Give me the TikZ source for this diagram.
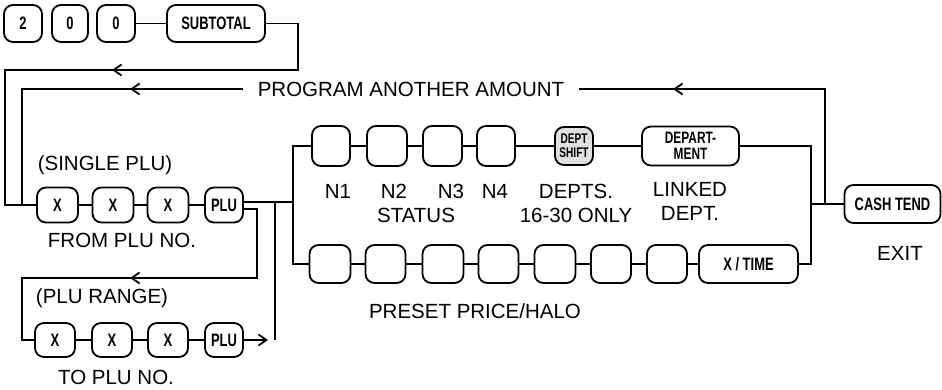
\documentclass[tikz,border=0pt]{standalone}
\usepackage{fontspec}
\setmainfont{Liberation Sans}
\newfontfamily\keyf[FakeStretch=0.72]{Liberation Sans Bold}
\usetikzlibrary{arrows.meta}
\begin{document}
\begin{tikzpicture}[x=1pt,y=-1pt,line width=1.8pt,
  key/.style={draw, rounded corners=9pt, line width=1.8pt, inner sep=0pt, align=center,
    font=\keyf\fontsize{18}{16}\selectfont},
  lbl/.style={inner sep=0pt, font=\fontsize{20.5}{24}\selectfont, align=center},
  arr/.style={-{Straight Barb[length=8pt,width=11pt]}}]
\useasboundingbox (0,0) rectangle (942,390);
% top row
\node[key,minimum width=38pt,minimum height=37pt] (k2) at (23,23.5) {2};
\node[key,minimum width=36pt,minimum height=37pt] (k0a) at (70,23.5) {0};
\node[key,minimum width=38pt,minimum height=37pt] (k0b) at (116,23.5) {0};
\node[key,minimum width=98pt,minimum height=37pt] (sub) at (216,23.5) {SUBTOTAL};
% single plu
\node[key,minimum width=41pt,minimum height=35pt] (s1) at (57.5,205) {X};
\node[key,minimum width=41pt,minimum height=35pt] (s2) at (113,205) {X};
\node[key,minimum width=41pt,minimum height=35pt] (s3) at (168,205) {X};
\node[key,minimum width=38pt,minimum height=35pt] (splu) at (224,205) {PLU};
% range
\node[key,minimum width=40pt,minimum height=34pt] (r1) at (55,340) {X};
\node[key,minimum width=40pt,minimum height=34pt] (r2) at (112,340) {X};
\node[key,minimum width=40pt,minimum height=34pt] (r3) at (168,340) {X};
\node[key,minimum width=38pt,minimum height=34pt] (rplu) at (224,340) {PLU};
% N row
\node[key,minimum width=38pt,minimum height=40pt] (n1) at (331,146) {};
\node[key,minimum width=40pt,minimum height=40pt] (n2) at (387,146) {};
\node[key,minimum width=39pt,minimum height=40pt] (n3) at (442.5,146) {};
\node[key,minimum width=38pt,minimum height=40pt] (n4) at (496,146) {};
\node[key,minimum width=38pt,minimum height=38pt,fill=black!12,
  font=\keyf\fontsize{14}{14.5}\selectfont] (ds) at (574,146) {DEPT\\SHIFT};
\node[key,minimum width=97pt,minimum height=39pt,font=\keyf\fontsize{16.5}{15.5}\selectfont] (dep) at (690.5,146) {DEPART-\\MENT};
% lower row
\node[key,minimum width=41pt,minimum height=38pt] (p1) at (330,264) {};
\node[key,minimum width=40pt,minimum height=38pt] (p2) at (385.5,264) {};
\node[key,minimum width=41pt,minimum height=38pt] (p3) at (443,264) {};
\node[key,minimum width=40pt,minimum height=38pt] (p4) at (498.5,264) {};
\node[key,minimum width=41pt,minimum height=38pt] (p5) at (555,264) {};
\node[key,minimum width=40pt,minimum height=38pt] (p6) at (611,264) {};
\node[key,minimum width=40pt,minimum height=38pt] (p7) at (667,264) {};
\node[key,minimum width=99pt,minimum height=38pt] (xt) at (748.5,264) {X / TIME};
\node[key,minimum width=96pt,minimum height=38pt] (cash) at (892.5,204) {CASH TEND};
% labels
\node[lbl,inner xsep=14pt] (prog) at (411,89) {PROGRAM ANOTHER AMOUNT};
\node[lbl] (lsingle) at (105,165) {(SINGLE PLU)};
\node[lbl] (lfrom) at (122,240) {FROM PLU NO.};
\node[lbl] (lrange) at (102,298) {(PLU RANGE)};
\node[lbl] (lto) at (116,377) {TO PLU NO.};
\node[lbl] (ln1) at (338,191) {N1};
\node[lbl] (ln2) at (394,191) {N2};
\node[lbl] (ln3) at (451,191) {N3};
\node[lbl] (ln4) at (495,191) {N4};
\node[lbl] (lstatus) at (416,215) {STATUS};
\node[lbl] (ldepts) at (576,203) {DEPTS.\\16-30 ONLY};
\node[lbl] (llinked) at (690,201) {LINKED\\DEPT.};
\node[lbl] (lpreset) at (475,311) {PRESET PRICE/HALO};
\node[lbl] (lexit) at (900,253) {EXIT};
% coordinates
\coordinate (c1) at (298,23.5);
\coordinate (c2) at (298,70);
\coordinate (c3) at (5,70);
\coordinate (a1) at (112,70);
\coordinate (c4) at (22,89);
\coordinate (c5) at (22,205);
\coordinate (a2) at (130,89);
\coordinate (c6) at (825,89);
\coordinate (c7) at (825,204);
\coordinate (a3) at (673,89);
\coordinate (b1) at (293,202);
\coordinate (bt) at (293,146);
\coordinate (bb) at (293,264);
\coordinate (v1) at (275,202);
\coordinate (v2) at (275,340);
\coordinate (e1) at (257,209);
\coordinate (e2) at (257,278);
\coordinate (e3) at (22,278);
\coordinate (a4) at (130,278);
\coordinate (d1) at (811,146);
\coordinate (d2) at (811,264);
\coordinate (d3) at (811,204);
% connectors
\draw (k0b) -- (sub);
\draw (sub.east) -- (c1) -- (c2) -- (c3) |- (s1.west);
\draw[arr] (c2) -- (a1);
\draw (prog.west) -- (c4) -- (c5);
\draw[arr] (prog.west) -- (a2);
\draw (prog.east) -- (c6) -- (c7);
\draw[arr] (c6) -- (a3);
\draw (s1) -- (s2) -- (s3) -- (splu);
\draw ([yshift=3pt]splu.east) -- (b1);
\draw ([yshift=-4pt]splu.east) -- (e1) -- (e2) -- (e3) |- (r1.west);
\draw[arr] (e2) -- (a4);
\draw (v1) -- (v2);
\draw (r1) -- (r2) -- (r3) -- (rplu);
\draw[arr,shorten >=7pt] (rplu.east) -- (v2);
\draw (n1.west) -- (bt) -- (bb) -- (p1.west);
\draw (n1) -- (n2) -- (n3) -- (n4) -- (ds) -- (dep);
\draw (p1) -- (p2) -- (p3) -- (p4) -- (p5) -- (p6) -- (p7) -- (xt);
\draw (dep.east) -- (d1) -- (d2) -- (xt.east);
\draw (d3) -- (cash.west);
\end{tikzpicture}
\end{document}
